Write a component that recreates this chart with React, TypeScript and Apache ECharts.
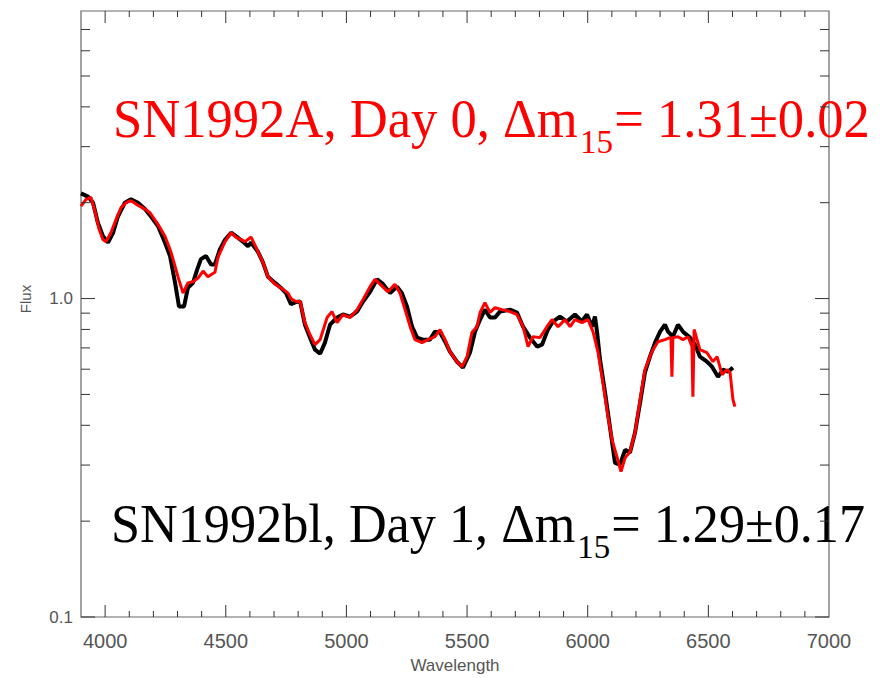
import React, { useEffect, useRef } from 'react';
import * as echarts from 'echarts';

// SN1992bl (black) spectrum
const wlBlack = [3900, 3929, 3950, 3970, 3991, 4012, 4033, 4053, 4082, 4107, 4136, 4165, 4190, 4219, 4248, 4269, 4290, 4306, 4327, 4343, 4364, 4381, 4397, 4418, 4439, 4455, 4476, 4497, 4522, 4542, 4571, 4592, 4605, 4634, 4654, 4675, 4704, 4729, 4750, 4770, 4790, 4808, 4828, 4849, 4870, 4891, 4911, 4932, 4961, 4986, 5015, 5044, 5069, 5098, 5127, 5152, 5181, 5210, 5230, 5251, 5272, 5293, 5317, 5346, 5367, 5388, 5409, 5429, 5458, 5483, 5512, 5533, 5554, 5574, 5595, 5616, 5636, 5678, 5707, 5732, 5761, 5790, 5811, 5835, 5856, 5885, 5914, 5947, 5976, 5997, 6018, 6030, 6039, 6051, 6072, 6092, 6113, 6134, 6155, 6175, 6196, 6217, 6237, 6258, 6279, 6300, 6320, 6333, 6353, 6374, 6395, 6424, 6445, 6465, 6494, 6515, 6540, 6561, 6581, 6602];
const fluxBlack = [2.14, 2.09, 2.0, 1.73, 1.57, 1.5, 1.61, 1.81, 2.0, 2.05, 2.0, 1.91, 1.81, 1.69, 1.5, 1.36, 1.12, 0.944, 0.944, 1.08, 1.12, 1.23, 1.33, 1.36, 1.28, 1.28, 1.43, 1.53, 1.61, 1.57, 1.51, 1.46, 1.5, 1.4, 1.3, 1.17, 1.12, 1.08, 1.04, 0.96, 0.975, 0.98, 0.828, 0.754, 0.691, 0.671, 0.727, 0.828, 0.872, 0.891, 0.878, 0.91, 0.979, 1.05, 1.15, 1.11, 1.04, 1.09, 1.04, 0.944, 0.816, 0.754, 0.743, 0.743, 0.787, 0.782, 0.732, 0.681, 0.634, 0.607, 0.676, 0.787, 0.859, 0.923, 0.872, 0.872, 0.91, 0.923, 0.904, 0.816, 0.754, 0.707, 0.717, 0.799, 0.847, 0.878, 0.847, 0.891, 0.847, 0.891, 0.816, 0.878, 0.782, 0.643, 0.506, 0.396, 0.305, 0.301, 0.335, 0.328, 0.379, 0.471, 0.585, 0.657, 0.727, 0.787, 0.828, 0.787, 0.759, 0.828, 0.787, 0.754, 0.717, 0.657, 0.634, 0.611, 0.568, 0.598, 0.589, 0.607];

// SN1992A (red) spectrum
const wlRed = [3900, 3921, 3941, 3958, 3975, 3991, 4004, 4024, 4045, 4066, 4086, 4107, 4128, 4165, 4186, 4219, 4248, 4273, 4302, 4323, 4343, 4364, 4385, 4406, 4426, 4455, 4468, 4497, 4522, 4542, 4580, 4605, 4625, 4654, 4675, 4704, 4729, 4758, 4770, 4791, 4808, 4828, 4849, 4870, 4891, 4920, 4940, 4961, 4986, 5015, 5044, 5069, 5098, 5118, 5139, 5172, 5201, 5222, 5243, 5264, 5284, 5313, 5338, 5367, 5388, 5409, 5429, 5458, 5479, 5500, 5520, 5541, 5554, 5574, 5595, 5616, 5645, 5678, 5707, 5732, 5753, 5773, 5802, 5831, 5852, 5877, 5906, 5927, 5947, 5976, 6001, 6022, 6043, 6063, 6084, 6101, 6121, 6138, 6155, 6175, 6196, 6217, 6237, 6266, 6291, 6320, 6341, 6345, 6349, 6353, 6374, 6395, 6416, 6432, 6436, 6441, 6465, 6494, 6519, 6536, 6557, 6577, 6590, 6602, 6610];
const fluxRed = [1.95, 2.05, 2.08, 1.88, 1.65, 1.53, 1.51, 1.61, 1.77, 1.93, 2.0, 2.03, 1.98, 1.91, 1.86, 1.71, 1.57, 1.4, 1.17, 1.04, 1.12, 1.13, 1.16, 1.22, 1.17, 1.21, 1.35, 1.51, 1.61, 1.56, 1.51, 1.56, 1.45, 1.3, 1.17, 1.11, 1.08, 1.04, 1.0, 0.979, 0.979, 0.84, 0.77, 0.717, 0.743, 0.872, 0.91, 0.84, 0.891, 0.872, 0.923, 0.993, 1.09, 1.15, 1.11, 1.05, 1.11, 1.04, 0.923, 0.816, 0.743, 0.727, 0.743, 0.759, 0.799, 0.743, 0.681, 0.634, 0.611, 0.657, 0.782, 0.816, 0.904, 0.971, 0.904, 0.937, 0.923, 0.91, 0.891, 0.816, 0.707, 0.759, 0.754, 0.816, 0.859, 0.816, 0.859, 0.816, 0.859, 0.84, 0.859, 0.787, 0.676, 0.544, 0.426, 0.36, 0.319, 0.286, 0.316, 0.33, 0.379, 0.481, 0.598, 0.681, 0.732, 0.743, 0.754, 0.75, 0.568, 0.754, 0.759, 0.743, 0.759, 0.707, 0.492, 0.8, 0.691, 0.676, 0.634, 0.657, 0.577, 0.598, 0.585, 0.481, 0.458];

const xTickLabels = ['4000', '4500', '5000', '5500', '6000', '6500', '7000'];
const yMajorTicks = [0.1, 1];
const yMinorTicks = [0.2, 0.3, 0.4, 0.5, 0.6, 0.7, 0.8, 0.9, 2, 3, 4, 5, 6, 7];
const xAxisName = 'Wavelength';
const yAxisName = 'Flux';

const redLabel = { main: 'SN1992A, Day 0, \u0394m', sub: '15', rest: '= 1.31\u00b10.02' };
const blackLabel = { main: 'SN1992bl, Day 1, \u0394m', sub: '15', rest: '= 1.29\u00b10.17' };

export default function App() {
  const ref = useRef<HTMLDivElement>(null);

  useEffect(() => {
    const el = ref.current;
    if (!el) return;
    const chart = echarts.init(el, null, { renderer: 'svg' });
    const sans = '"Liberation Sans", Arial, sans-serif';
    const serif = '"Liberation Serif", "Times New Roman", serif';

    const GL = 81, GT = 11, GW = 748, GH = 606;

    chart.setOption({
      animation: false,
      backgroundColor: '#ffffff',
      grid: { left: GL, top: GT, width: GW, height: GH, show: true, borderColor: '#666', borderWidth: 1.2, backgroundColor: 'transparent' },
      xAxis: {
        type: 'value', min: 3900, max: 7000, interval: 100,
        axisLine: { show: false }, axisTick: { show: false }, splitLine: { show: false },
        axisLabel: {
          interval: 0, margin: 14, color: '#555', fontSize: 20, fontFamily: sans,
          showMinLabel: true, showMaxLabel: true,
          formatter: (v: number) => {
            const s = String(Math.round(v));
            return xTickLabels.includes(s) ? s : '';
          },
        },
      },
      yAxis: {
        type: 'log', logBase: 10, min: 0.1, max: 8,
        axisLine: { show: false }, axisTick: { show: false }, splitLine: { show: false }, minorSplitLine: { show: false },
        axisLabel: {
          margin: 8, color: '#555', fontSize: 17, fontFamily: sans,
          formatter: (v: number) => {
            if (Math.abs(v - 1) < 1e-6) return '1.0';
            if (Math.abs(v - 0.1) < 1e-6) return '0.1';
            return '';
          },
        },
      },
      series: [
        {
          type: 'line', name: 'SN1992bl', data: wlBlack.map((w, i) => [w, fluxBlack[i]]),
          symbol: 'none', showSymbol: false, lineStyle: { color: '#000000', width: 4 }, z: 2,
        },
        {
          type: 'line', name: 'SN1992A', data: wlRed.map((w, i) => [w, fluxRed[i]]),
          symbol: 'none', showSymbol: false, lineStyle: { color: '#ff0000', width: 3 }, z: 3,
        },
      ],
    });

    const px = (v: number) => chart.convertToPixel({ xAxisIndex: 0 }, v) as number;
    const py = (v: number) => chart.convertToPixel({ yAxisIndex: 0 }, v) as number;
    const top = GT, bottom = GT + GH, left = GL, right = GL + GW;
    const tickStyle = { stroke: '#333', lineWidth: 1 };
    const g: any[] = [];
    const ln = (x1: number, y1: number, x2: number, y2: number) =>
      g.push({ type: 'line', silent: true, shape: { x1, y1, x2, y2 }, style: tickStyle, z: 10 });

    for (let v = 4000; v < 7000; v += 100) {
      const x = px(v);
      const len = v % 500 === 0 ? 12 : 6;
      ln(x, bottom, x, bottom - len);
      ln(x, top, x, top + len);
    }
    yMajorTicks.forEach((v) => {
      const y = py(v);
      ln(left, y, left + 14, y);
      ln(right, y, right - 14, y);
    });
    yMinorTicks.forEach((v) => {
      const y = py(v);
      ln(left, y, left + 9, y);
      ln(right, y, right - 9, y);
    });

    // axis names
    g.push({
      type: 'text', silent: true, x: (left + right) / 2, y: 665,
      style: { text: xAxisName, fill: '#555', font: `17px ${sans}`, align: 'center', verticalAlign: 'middle' },
    });
    g.push({
      type: 'text', silent: true, x: 25, y: 299, rotation: Math.PI / 2,
      style: { text: yAxisName, fill: '#555', font: `15px ${sans}`, align: 'center', verticalAlign: 'middle' },
    });

    // annotations
    const ctx = document.createElement('canvas').getContext('2d')!;
    const measure = (s: string, size: number) => {
      ctx.font = `${size}px "Liberation Serif"`;
      return ctx.measureText(s).width;
    };
    const addLabel = (lab: { main: string; sub: string; rest: string }, x0: number, x1: number, baseline: number, color: string) => {
      const F = 54, FS = 34, g1 = 2, g2 = 1;
      const w1 = measure(lab.main, F), w2 = measure(lab.sub, FS), w3 = measure(lab.rest, F);
      const s = (x1 - x0 - g1 - g2) / (w1 + w2 + w3);
      const c = 0.3375;
      g.push({ type: 'text', silent: true, x: x0, y: baseline - c * F, scaleX: s,
        style: { text: lab.main, fill: color, font: `${F}px ${serif}`, align: 'left', verticalAlign: 'middle' } });
      const xs = x0 + s * w1 + g1;
      g.push({ type: 'text', silent: true, x: xs, y: baseline + 16 - c * FS, scaleX: s,
        style: { text: lab.sub, fill: color, font: `${FS}px ${serif}`, align: 'left', verticalAlign: 'middle' } });
      const xr = xs + s * w2 + g2;
      g.push({ type: 'text', silent: true, x: xr, y: baseline - c * F, scaleX: s,
        style: { text: lab.rest, fill: color, font: `${F}px ${serif}`, align: 'left', verticalAlign: 'middle' } });
    };
    addLabel(redLabel, 113, 870, 137, '#ff0000');
    addLabel(blackLabel, 111, 865, 542, '#000000');

    chart.setOption({ graphic: g });

    return () => chart.dispose();
  }, []);

  return <div ref={ref} style={{ position: 'absolute', left: 0, top: 0, width: 880, height: 678 }} />;
}
